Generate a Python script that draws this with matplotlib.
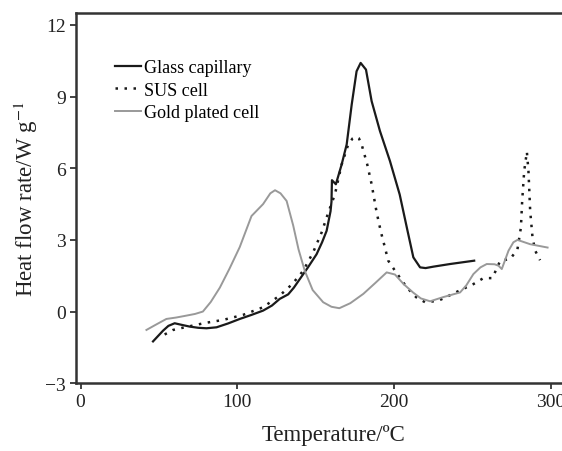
import matplotlib
matplotlib.use("Agg")
import matplotlib.pyplot as plt

glass_x = [46.2, 52.6, 56, 60, 64, 69.6, 75, 80.3, 86.7, 94, 101.5, 109, 116.4, 122, 127, 132.4, 136, 139.8, 145, 150.5, 154, 156.9, 159.4, 160, 160.3, 162.8, 166.5, 169.7, 172.9, 176, 178.6, 182, 185.6, 190.9, 197.3, 203.5, 208.5, 212.2, 216.5, 220, 225, 235.6, 251]
glass_y = [-1.25, -0.8, -0.6, -0.49, -0.55, -0.63, -0.68, -0.7, -0.66, -0.5, -0.31, -0.14, 0.04, 0.25, 0.53, 0.72, 1.0, 1.36, 1.85, 2.4, 2.9, 3.38, 4.2, 4.6, 5.5, 5.33, 6.16, 7.0, 8.67, 10.06, 10.41, 10.13, 8.81, 7.56, 6.3, 4.9, 3.38, 2.27, 1.85, 1.82, 1.88, 1.99, 2.13]

sus_x = [53.6, 59, 66.4, 79.2, 90.9, 103.6, 116.4, 127, 135, 142, 148.3, 153.7, 158, 162.2, 166.5, 170.7, 173.5, 175.6, 177.5, 179.2, 182.8, 185.6, 188.8, 191.6, 193, 196.2, 200.5, 208, 214, 219.7, 228, 233, 237.8, 244, 250.5, 256.9, 262.6, 267.6, 274, 278.6, 280.8, 281.6, 282.9, 284.6, 285.6, 286.7, 288.2, 289.9, 293]
sus_y = [-0.96, -0.77, -0.66, -0.48, -0.35, -0.14, 0.18, 0.67, 1.15, 1.71, 2.48, 3.31, 4.15, 4.91, 6.16, 7.0, 7.25, 7.32, 7.25, 7.0, 6.16, 5.33, 4.15, 3.31, 2.96, 2.13, 1.71, 1.01, 0.6, 0.39, 0.45, 0.6, 0.76, 0.95, 1.15, 1.4, 1.4, 2.13, 2.2, 2.61, 3.52, 4.63, 5.89, 6.69, 5.89, 4.22, 3.1, 2.55, 2.15]

gold_x = [42, 48, 54.7, 61, 67.5, 73, 78, 83, 88.8, 95, 101.5, 109, 116.4, 121, 124, 127.5, 131.4, 135.6, 139, 143, 148, 154.7, 160, 165, 172, 180.3, 188, 195.2, 200.5, 206, 212, 217, 222.9, 231, 242, 246, 250.5, 255, 259, 264, 266.5, 268.6, 272.9, 276, 278.6, 286.7, 297.8]
gold_y = [-0.77, -0.55, -0.31, -0.25, -0.17, -0.1, 0.0, 0.4, 1.0, 1.8, 2.7, 4.0, 4.5, 4.95, 5.08, 4.95, 4.63, 3.6, 2.6, 1.7, 0.9, 0.39, 0.2, 0.14, 0.35, 0.74, 1.2, 1.64, 1.55, 1.15, 0.8, 0.55, 0.43, 0.6, 0.8, 1.1, 1.57, 1.85, 1.99, 1.98, 1.92, 1.78, 2.55, 2.9, 3.0, 2.82, 2.68]

labels = ["Glass capillary", "SUS cell", "Gold plated cell"]
xticks = [0, 100, 200, 300]
yticks = [-3, 0, 3, 6, 9, 12]

plt.rcParams['font.family'] = ['Liberation Serif', 'DejaVu Serif']
plt.rcParams['mathtext.fontset'] = 'stix'

fig = plt.figure(figsize=(5.62, 4.52), dpi=100)
ax = fig.add_axes([0.135, 0.150, 0.865, 0.819])

ax.plot(glass_x, glass_y, color='#1a1a1a', lw=1.6, label=labels[0])
ax.plot(sus_x, sus_y, color='#1a1a1a', lw=1.8, linestyle=(0, (1.0, 2.6)), label=labels[1])
ax.plot(gold_x, gold_y, color='#999999', lw=1.4, label=labels[2])

ax.set_xlim(-3, 307)
ax.set_ylim(-3, 12.5)
ax.set_xticks(xticks)
ax.set_yticks(yticks)
ax.tick_params(axis='both', direction='out', length=4, width=1.2, labelsize=14, colors='#222222', pad=3)

for s in ['left', 'bottom', 'top']:
    ax.spines[s].set_linewidth(1.8)
    ax.spines[s].set_color('#333333')
ax.spines['right'].set_visible(False)

ax.set_xlabel('Temperature/ºC', fontsize=16.5, color='#222222')
ax.xaxis.set_label_coords(0.529, -0.11)
ax.set_ylabel('Heat flow rate/W g$^{-1}$', fontsize=16.5, color='#222222')
ax.yaxis.set_label_coords(-0.074, 0.5)

leg = ax.legend(loc='upper left', bbox_to_anchor=(0.065, 0.895), frameon=False, fontsize=13,
                handlelength=1.45, handletextpad=0.15, labelspacing=0.3, borderaxespad=0)

fig.savefig('out.png', dpi=100)
